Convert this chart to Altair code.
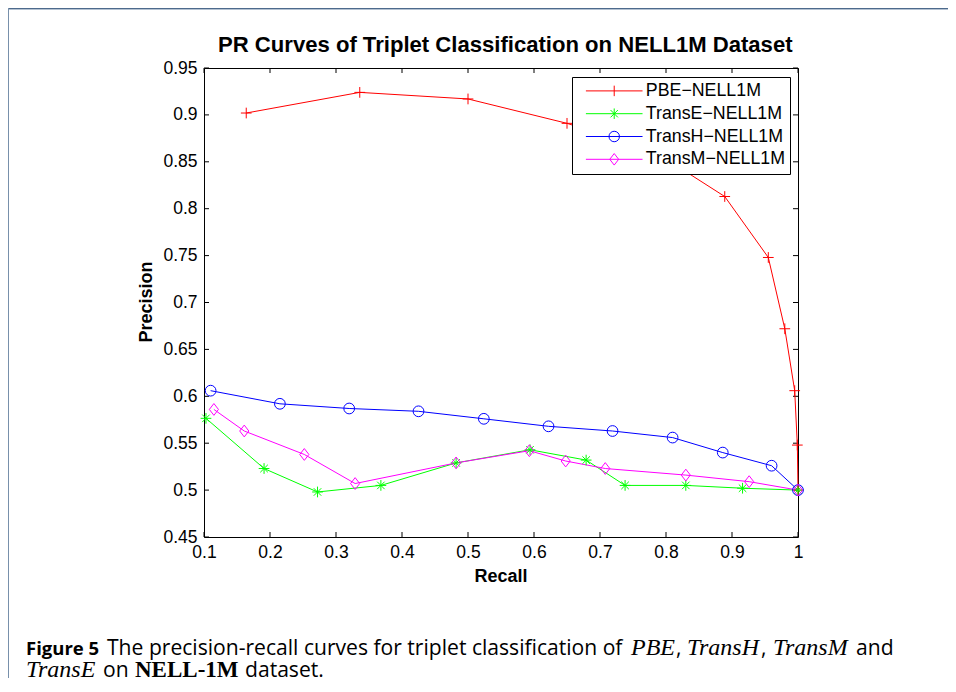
import altair as alt
import pandas as pd

# ---------------- data ----------------
series = ["PBE\u2212NELL1M", "TransE\u2212NELL1M", "TransH\u2212NELL1M", "TransM\u2212NELL1M"]
colors = ["#ff0000", "#00ff00", "#0000ff", "#ff00ff"]

pbe_recall = [0.164, 0.336, 0.500, 0.650, 0.780, 0.889, 0.955, 0.980, 0.995, 0.999, 1.000]
pbe_precision = [0.902, 0.924, 0.917, 0.891, 0.862, 0.813, 0.748, 0.672, 0.606, 0.548, 0.500]

transe_recall = [0.103, 0.191, 0.272, 0.368, 0.482, 0.594, 0.679, 0.738, 0.830, 0.916, 1.000]
transe_precision = [0.5765, 0.523, 0.498, 0.505, 0.529, 0.543, 0.532, 0.505, 0.505, 0.502, 0.500]

transh_recall = [0.110, 0.215, 0.320, 0.425, 0.524, 0.622, 0.719, 0.810, 0.886, 0.960, 1.000]
transh_precision = [0.606, 0.592, 0.587, 0.584, 0.576, 0.568, 0.563, 0.556, 0.540, 0.526, 0.500]

transm_recall = [0.115, 0.161, 0.252, 0.329, 0.482, 0.593, 0.648, 0.708, 0.830, 0.926, 1.000]
transm_precision = [0.586, 0.563, 0.538, 0.507, 0.529, 0.542, 0.531, 0.523, 0.516, 0.509, 0.500]

x_ticks = [0.1, 0.2, 0.3, 0.4, 0.5, 0.6, 0.7, 0.8, 0.9, 1.0]
y_ticks = [0.45, 0.5, 0.55, 0.6, 0.65, 0.7, 0.75, 0.8, 0.85, 0.9, 0.95]

title_text = "PR Curves of Triplet Classification on NELL1M Dataset"
x_title = "Recall"
y_title = "Precision"

# ---------------- tables ----------------
rows = []
for name, rx, py in zip(series,
                        [pbe_recall, transe_recall, transh_recall, transm_recall],
                        [pbe_precision, transe_precision, transh_precision, transm_precision]):
    for i, (a, b) in enumerate(zip(rx, py)):
        rows.append({"series": name, "recall": a, "precision": b, "i": i})
df = pd.DataFrame(rows)
xt = pd.DataFrame({"v": x_ticks})
yt = pd.DataFrame({"v": y_ticks})
one = pd.DataFrame({"k": [0]})

W, H = 594, 469
SANS = "Liberation Sans"

xscale = alt.Scale(domain=[0.1, 1.0], nice=False, zero=False)
yscale = alt.Scale(domain=[0.45, 0.95], nice=False, zero=False)

xaxis = alt.Axis(values=x_ticks, format="~g", title=None, grid=False, domain=False,
                 ticks=False, tickSize=0, labelPadding=6, labelFont=SANS,
                 labelFontSize=17.5, labelColor="black", labelFlush=False)
yaxis = alt.Axis(values=y_ticks, format="~g", title=None, grid=False, domain=False,
                 ticks=False, tickSize=0, labelPadding=7, labelFont=SANS,
                 labelFontSize=17.5, labelColor="black", labelFlush=False)

# marker shapes for the plot
plot_shapes = [
    "M-1,0H1M0,-1V1",
    "M-1,0H1M0,-1V1M-0.7,-0.7L0.7,0.7M-0.7,0.7L0.7,-0.7",
    "circle",
    "M0,-1.1L0.85,0L0,1.1L-0.85,0Z",
]
# legend symbols: line segment + marker
leg_paths = [
    "M0,0H10.8M5.4,-1V1",
    "M0,0H10.8M5.4,-1V1M4.7,-0.7L6.1,0.7M4.7,0.7L6.1,-0.7",
    "M0,0H10.8M6.4,0A1,1 0 1 1 4.4,0A1,1 0 1 1 6.4,0",
    "M0,0H10.8M5.4,-1.1L6.25,0L5.4,1.1L4.55,0Z",
]

legend = alt.Legend(title=None, orient="none", legendX=368, legendY=9, padding=5,
                    strokeColor="black", fillColor="white", rowPadding=3.8,
                    labelFont=SANS, labelFontSize=17.8, labelColor="black",
                    labelOffset=51, symbolSize=110, symbolStrokeWidth=1)

layers = []

# frame around the figure
layers.append(alt.Chart(one).mark_rule(color="#4d6a8c", strokeWidth=1).encode(
    x=alt.value(-196), x2=alt.value(744), y=alt.value(-59.5)))
layers.append(alt.Chart(one).mark_rule(color="#b4c2d2", strokeWidth=1).encode(
    x=alt.value(-196), x2=alt.value(744), y=alt.value(-58.5)))
layers.append(alt.Chart(one).mark_rule(color="#7890ab", strokeWidth=1).encode(
    x=alt.value(-195.5), y=alt.value(-60), y2=alt.value(H + 141)))

# inward ticks
layers.append(alt.Chart(xt).mark_rule(color="black", strokeWidth=1).encode(
    x=alt.X("v:Q", scale=xscale, axis=xaxis), y=alt.value(H), y2=alt.value(H - 5)))
layers.append(alt.Chart(xt).mark_rule(color="black", strokeWidth=1).encode(
    x=alt.X("v:Q", scale=xscale, axis=xaxis), y=alt.value(0), y2=alt.value(5)))
layers.append(alt.Chart(yt).mark_rule(color="black", strokeWidth=1).encode(
    y=alt.Y("v:Q", scale=yscale, axis=yaxis), x=alt.value(0), x2=alt.value(5)))
layers.append(alt.Chart(yt).mark_rule(color="black", strokeWidth=1).encode(
    y=alt.Y("v:Q", scale=yscale, axis=yaxis), x=alt.value(W), x2=alt.value(W - 5)))

# curves
for name, c in zip(series, colors):
    layers.append(alt.Chart(df).transform_filter(alt.datum.series == name)
                  .mark_line(color=c, strokeWidth=1).encode(
        x=alt.X("recall:Q", scale=xscale, axis=xaxis),
        y=alt.Y("precision:Q", scale=yscale, axis=yaxis),
        order="i:Q"))

# markers
layers.append(alt.Chart(df).mark_point(filled=False, size=115, strokeWidth=1, opacity=1).encode(
    x=alt.X("recall:Q", scale=xscale, axis=xaxis),
    y=alt.Y("precision:Q", scale=yscale, axis=yaxis),
    color=alt.Color("series:N", scale=alt.Scale(domain=series, range=colors), legend=None),
    shape=alt.Shape("series:N", scale=alt.Scale(domain=series, range=plot_shapes), legend=None),
))

# legend carrier (its own marks are placed off the canvas)
layers.append(alt.Chart(df).mark_point(filled=False, size=110, strokeWidth=1, opacity=1).encode(
    x=alt.value(-3000), y=alt.value(-3000),
    color=alt.Color("series:N", scale=alt.Scale(domain=series, range=colors), legend=legend),
    shape=alt.Shape("series:N", scale=alt.Scale(domain=series, range=leg_paths), legend=legend),
))


def txt(text, x, y, size, font, weight="normal", style="normal", align="left", angle=0):
    m = alt.Chart(one).mark_text(text=text, font=font, fontSize=size, fontWeight=weight,
                                 fontStyle=style, align=align, baseline="alphabetic",
                                 angle=angle, color="black")
    return m.encode(x=alt.value(x), y=alt.value(y))


layers.append(txt(title_text, 14, -16, 22.1, SANS, weight="bold"))
layers.append(txt(x_title, 297, 514, 18, SANS, weight="bold", align="center"))
layers.append(txt(y_title, -52, 234, 18, SANS, weight="bold", align="center", angle=270))

# caption (x positions are page x minus 204)
CS = "Open Sans"
SER = "Liberation Serif"
L1, L2 = 587, 608.5
layers.append(txt("Figure 5", 26 - 204, L1, 18.5, CS, weight="bold"))
layers.append(txt("The precision-recall curves for triplet classification of", 107 - 204, L1, 21.1, CS))
layers.append(txt("PBE", 631 - 204, L1, 24, SER, style="italic"))
layers.append(txt(",", 676 - 204, L1, 21.1, CS))
layers.append(txt("TransH", 687 - 204, L1, 24, SER, style="italic"))
layers.append(txt(",", 761 - 204, L1, 21.1, CS))
layers.append(txt("TransM", 773 - 204, L1, 24, SER, style="italic"))
layers.append(txt("and", 856 - 204, L1, 21.1, CS))
layers.append(txt("TransE", 26 - 204, L2, 24, SER, style="italic"))
layers.append(txt("on", 103 - 204, L2, 21.1, CS))
layers.append(txt("NELL-1M", 135 - 204, L2, 23, SER, weight="bold"))
layers.append(txt("dataset.", 245 - 204, L2, 21.1, CS))

chart = alt.layer(*layers).resolve_scale(
    color="independent", shape="independent"
).properties(
    width=W, height=H,
    autosize=alt.AutoSizeParams(type="none"),
    padding={"left": 196, "top": 60, "right": 150, "bottom": 141},
    background="white",
).configure_view(stroke="black", strokeWidth=1)

chart.save("out.html", embed_options={"renderer": "svg", "actions": False})
